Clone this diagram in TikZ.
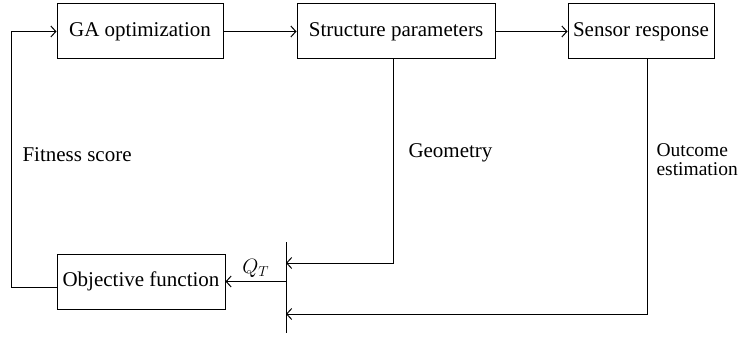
\documentclass[tikz,border=0pt]{standalone}
\usepackage{fontspec}
\setmainfont{Liberation Serif}
\usetikzlibrary{arrows.meta, positioning}
\tikzset{
  blockbox/.style={draw, line width=1pt, minimum height=55pt, inner sep=0pt, font=\fontsize{21}{23}\selectfont},
  flowlabel/.style={anchor=west, inner sep=0pt, align=left, font=\fontsize{21}{19}\selectfont},
}

\begin{document}
\begin{tikzpicture}[>={Straight Barb[length=5pt,width=11pt]}, x=1pt, y=-1pt, line width=1pt]
  \useasboundingbox (0,0) rectangle (746,339);
  % Kästen
  \node[blockbox, minimum width=166pt] (ga) at (140,31.5) {GA optimization};
  \node[blockbox, minimum width=198pt] (struct) at (396,31.5) {Structure parameters};
  \node[blockbox, minimum width=146pt] (sensor) at (641,31.5) {Sensor response};
  \node[blockbox, minimum width=168pt] (obj) at (141,281.5) {Objective function};
  % Sammelbalken
  \coordinate (bartop) at (286,242);
  \coordinate (barbot) at (286,333);
  \coordinate (geoin) at (286,263);
  \coordinate (estin) at (286,314);
  \coordinate (qout) at (286,281.5);
  \draw (bartop) -- (barbot);
  \draw[->] (ga) -- (struct);
  \draw[->] (struct) -- (sensor);
  \draw[->] ([xshift=-3pt]struct.south) |- (geoin);
  \draw[->] ([xshift=6pt]sensor.south) |- (estin);
  \draw[->] (qout) -- (obj.east) node[midway, above=0pt, font=\fontsize{21}{23}\selectfont] {$Q_T$};
  % Rückkopplung
  \draw[->] ([yshift=-5.5pt]obj.west) -- ++(-45,0) |- (ga.west);
  \node[flowlabel] (fit) at (22,155) {Fitness score};
  \node[flowlabel] (geo) at (408,153) {Geometry};
  \node[flowlabel, font=\fontsize{19.5}{19}\selectfont] (est) at (656,160) {Outcome\\estimation};
\end{tikzpicture}
\end{document}
